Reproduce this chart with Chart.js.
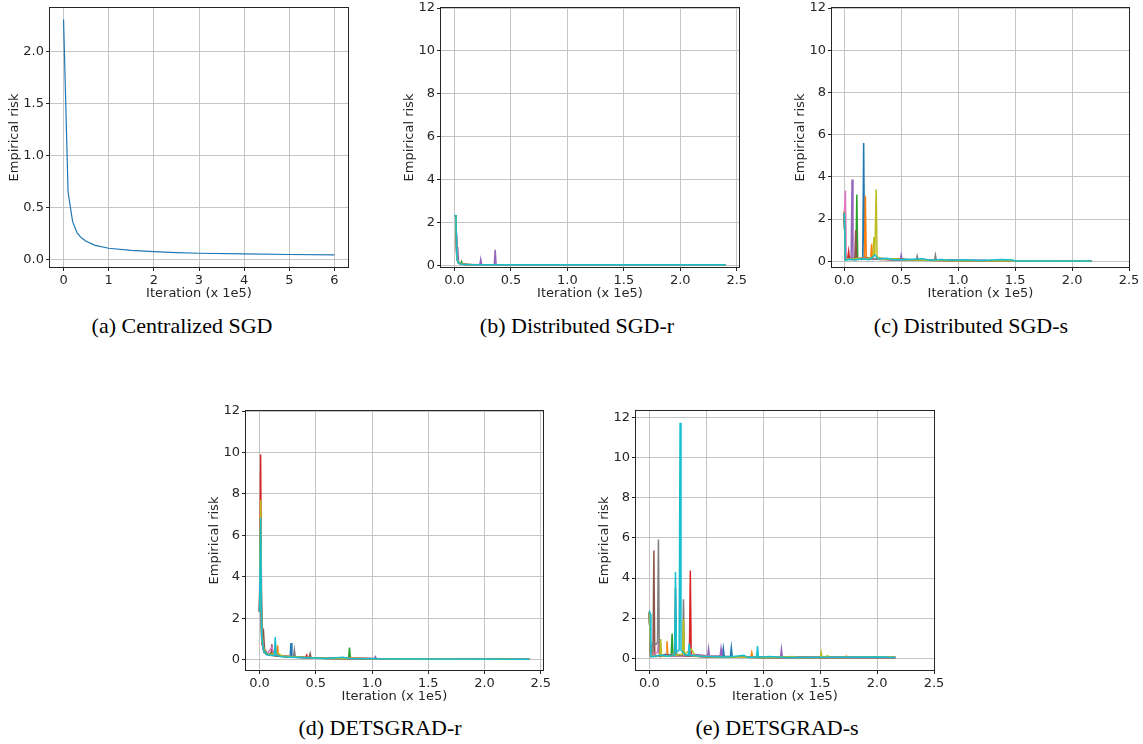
<!DOCTYPE html>
<html>
<head>
<meta charset="utf-8">
<script src="https://cdn.jsdelivr.net/npm/chart.js@4.4.0/dist/chart.umd.min.js"></script>
<style>
body { margin: 0; width: 1143px; height: 744px; background: #fff; position: relative; overflow: hidden; }
canvas { position: absolute; }
.cap { position: absolute; font-family: 'Liberation Serif', 'Times New Roman', serif; font-size: 22px; line-height: 26px; color: #000; white-space: nowrap; transform: translateX(-50%); }
</style>
</head>
<body>
<canvas id="ca"></canvas>
<canvas id="cb"></canvas>
<canvas id="cc"></canvas>
<canvas id="cd"></canvas>
<canvas id="ce"></canvas>
<div class="cap" style="left:182px;top:313px">(a) Centralized SGD</div>
<div class="cap" style="left:577px;top:313px">(b) Distributed SGD-r</div>
<div class="cap" style="left:971px;top:313px">(c) Distributed SGD-s</div>
<div class="cap" style="left:380px;top:715px">(d) DETSGRAD-r</div>
<div class="cap" style="left:777px;top:715px">(e) DETSGRAD-s</div>
<script>
// matplotlib tab10, one colour per node
const COLORS = ['#1f77b4', '#ff7f0e', '#2ca02c', '#d62728', '#9467bd', '#8c564b', '#e377c2', '#7f7f7f', '#bcbd22', '#17becf'];
const FONT = "'DejaVu Sans', sans-serif";

// tick labels
const iterTicksA = [0, 1, 2, 3, 4, 5, 6];
const riskTicksA = [0, 0.5, 1.0, 1.5, 2.0];
const iterTicks = [0, 0.5, 1.0, 1.5, 2.0, 2.5];
const riskTicks = [0, 2, 4, 6, 8, 10, 12];

// (a) centralized SGD, [iteration x1e5, risk]
const riskA = [[0, 2.31], [0.1, 0.65], [0.2, 0.37], [0.3, 0.26], [0.4, 0.21], [0.5, 0.18], [0.7, 0.14],
  [1.0, 0.112], [1.5, 0.092], [2.0, 0.08], [2.5, 0.071], [3.0, 0.064], [4.0, 0.058], [5.0, 0.052], [6.0, 0.048]];

// (b) distributed SGD-r, one list per node
const seriesB = [
  [[0, 2.31], [0.012, 2.3], [0.02, 0.35], [0.035, 0.12], [0.06, 0.06], [0.1, 0.04], [0.2, 0.03], [0.5, 0.02], [2.4, 0.02]],
  [[0, 2.3], [0.012, 2.29], [0.021, 0.3], [0.035, 0.11], [0.07, 0.05], [0.12, 0.04], [0.25, 0.03], [0.6, 0.02], [2.4, 0.02]],
  [[0, 2.3], [0.012, 2.3], [0.02, 0.4], [0.04, 0.1], [0.055, 0.08], [0.062, 0.17], [0.07, 0.06], [0.15, 0.04], [0.4, 0.02], [2.4, 0.02]],
  [[0, 2.3], [0.012, 2.28], [0.02, 0.32], [0.036, 0.12], [0.065, 0.06], [0.11, 0.04], [0.3, 0.03], [0.7, 0.02], [2.4, 0.02]],
  [[0, 2.3], [0.012, 2.29], [0.02, 0.3], [0.028, 0.85], [0.036, 0.1], [0.06, 0.05], [0.1, 0.04], [0.224, 0.03], [0.232, 0.28], [0.24, 0.03],
    [0.352, 0.03], [0.36, 0.72], [0.368, 0.03], [0.5, 0.02], [2.4, 0.02]],
  [[0, 2.3], [0.012, 2.3], [0.02, 0.36], [0.034, 0.13], [0.06, 0.06], [0.1, 0.04], [0.2, 0.03], [0.5, 0.02], [2.4, 0.02]],
  [[0, 2.3], [0.012, 2.29], [0.02, 0.33], [0.035, 0.12], [0.06, 0.05], [0.12, 0.04], [0.3, 0.02], [2.4, 0.02]],
  [[0, 2.3], [0.012, 2.3], [0.021, 0.34], [0.036, 0.11], [0.06, 0.05], [0.1, 0.04], [0.25, 0.03], [0.6, 0.02], [2.4, 0.02]],
  [[0, 2.3], [0.012, 2.28], [0.02, 0.31], [0.035, 0.12], [0.062, 0.06], [0.1, 0.04], [0.2, 0.03], [0.5, 0.02], [2.4, 0.02]],
  [[0, 2.32], [0.012, 2.31], [0.022, 0.25], [0.035, 0.1], [0.06, 0.05], [0.1, 0.04], [0.2, 0.03], [0.5, 0.02], [2.4, 0.02]]
];

// (c) distributed SGD-s
const seriesC = [
  [[0, 2.3], [0.01, 0.12], [0.04, 0.15], [0.08, 0.1], [0.12, 0.14], [0.162, 0.12], [0.17, 5.6], [0.178, 0.15], [0.22, 0.1], [0.3, 0.12],
    [0.38, 0.08], [0.48, 0.1], [0.6, 0.06], [0.75, 0.07], [0.9, 0.04], [1.1, 0.04], [1.4, 0.03], [2.17, 0.02]],
  [[0, 2.3], [0.01, 0.1], [0.05, 0.12], [0.1, 0.09], [0.15, 0.13], [0.177, 0.15], [0.185, 3.1], [0.193, 0.2], [0.232, 0.12], [0.24, 0.83],
    [0.248, 0.1], [0.3, 0.1], [0.4, 0.12], [0.5, 0.07], [0.65, 0.06], [0.8, 0.05], [1.0, 0.03], [1.3, 0.03], [2.17, 0.02]],
  [[0, 2.3], [0.01, 0.08], [0.05, 0.1], [0.102, 0.12], [0.11, 3.16], [0.118, 0.1], [0.16, 0.14], [0.22, 0.1], [0.3, 0.14], [0.4, 0.08],
    [0.52, 0.1], [0.62, 0.05], [0.8, 0.06], [1.0, 0.03], [1.2, 0.03], [2.17, 0.02]],
  [[0, 2.3], [0.01, 0.1], [0.03, 0.12], [0.038, 0.47], [0.046, 0.1], [0.09, 0.08], [0.14, 0.12], [0.2, 0.15], [0.27, 0.1], [0.33, 0.12],
    [0.42, 0.07], [0.55, 0.06], [0.7, 0.05], [0.9, 0.04], [1.2, 0.03], [2.17, 0.02]],
  [[0, 2.3], [0.01, 0.1], [0.04, 0.12], [0.06, 0.1], [0.068, 3.87], [0.076, 0.12], [0.12, 0.1], [0.18, 0.13], [0.25, 0.09], [0.33, 0.14],
    [0.42, 0.1], [0.492, 0.08], [0.5, 0.3], [0.508, 0.08], [0.6, 0.06], [0.75, 0.05], [0.9, 0.04], [1.24, 0.05], [1.25, 0.02], [2.17, 0.02]],
  [[0, 2.3], [0.01, 0.1], [0.05, 0.14], [0.092, 0.12], [0.1, 1.47], [0.108, 0.12], [0.15, 0.09], [0.21, 0.14], [0.28, 0.1], [0.36, 0.08],
    [0.46, 0.1], [0.58, 0.06], [0.72, 0.05], [0.9, 0.04], [1.1, 0.03], [2.17, 0.02]],
  [[0, 2.3], [0.01, 3.35], [0.017, 0.1], [0.05, 0.08], [0.1, 0.12], [0.14, 0.16], [0.2, 0.1], [0.26, 0.12], [0.32, 0.08], [0.4, 0.1],
    [0.5, 0.06], [0.62, 0.07], [0.78, 0.05], [0.95, 0.04], [1.15, 0.03], [1.6, 0.03], [2.17, 0.02]],
  [[0, 2.3], [0.01, 0.1], [0.06, 0.12], [0.12, 0.08], [0.2, 0.14], [0.27, 0.1], [0.35, 0.12], [0.44, 0.07], [0.55, 0.08], [0.632, 0.06],
    [0.64, 0.25], [0.648, 0.06], [0.72, 0.05], [0.792, 0.06], [0.8, 0.3], [0.808, 0.06], [0.95, 0.04], [1.2, 0.03], [2.17, 0.02]],
  [[0, 2.35], [0.01, 0.12], [0.06, 0.1], [0.13, 0.14], [0.2, 0.12], [0.252, 0.2], [0.26, 1.15], [0.268, 0.25], [0.28, 3.4], [0.288, 0.2],
    [0.34, 0.1], [0.42, 0.12], [0.52, 0.07], [0.65, 0.06], [0.8, 0.04], [1.0, 0.03], [2.17, 0.02]],
  [[0, 2.3], [0.01, 0.05], [0.04, 0.1], [0.09, 0.06], [0.15, 0.12], [0.22, 0.08], [0.27, 0.3], [0.3, 0.1], [0.37, 0.14], [0.45, 0.06],
    [0.55, 0.08], [0.69, 0.12], [0.75, 0.05], [0.85, 0.08], [0.95, 0.05], [1.05, 0.07], [1.2, 0.04], [1.38, 0.08], [1.48, 0.06], [1.5, 0.02], [2.17, 0.02]]
];

// (d) DETSGRAD-r
const seriesD = [
  [[0, 2.3], [0.01, 4.5], [0.02, 1.0], [0.035, 0.45], [0.06, 0.25], [0.1, 0.22], [0.16, 0.18], [0.22, 0.15], [0.272, 0.12], [0.28, 0.8],
    [0.288, 0.12], [0.36, 0.1], [0.45, 0.08], [0.6, 0.06], [0.8, 0.05], [1.0, 0.04], [1.3, 0.03], [1.8, 0.02], [2.4, 0.02]],
  [[0, 2.3], [0.01, 5.2], [0.02, 0.9], [0.04, 0.4], [0.07, 0.28], [0.12, 0.22], [0.152, 0.2], [0.16, 0.69], [0.168, 0.2], [0.22, 0.16],
    [0.3, 0.14], [0.4, 0.1], [0.55, 0.07], [0.7, 0.06], [0.9, 0.05], [1.2, 0.03], [2.4, 0.02]],
  [[0, 2.3], [0.01, 3.8], [0.02, 1.1], [0.04, 0.35], [0.08, 0.25], [0.14, 0.2], [0.2, 0.15], [0.3, 0.12], [0.42, 0.1], [0.55, 0.08],
    [0.7, 0.06], [0.792, 0.06], [0.8, 0.58], [0.808, 0.06], [0.95, 0.04], [1.2, 0.03], [2.4, 0.02]],
  [[0, 2.3], [0.01, 9.9], [0.02, 0.8], [0.04, 0.4], [0.07, 0.26], [0.12, 0.2], [0.2, 0.16], [0.3, 0.13], [0.412, 0.1], [0.42, 0.22],
    [0.428, 0.1], [0.55, 0.07], [0.72, 0.06], [0.9, 0.05], [1.1, 0.03], [2.4, 0.02]],
  [[0, 2.3], [0.01, 5.8], [0.02, 1.0], [0.04, 0.38], [0.07, 0.28], [0.1, 0.3], [0.16, 0.2], [0.22, 0.17], [0.3, 0.12], [0.4, 0.1],
    [0.52, 0.08], [0.7, 0.06], [0.9, 0.05], [1.022, 0.05], [1.03, 0.14], [1.038, 0.05], [1.3, 0.03], [2.4, 0.02]],
  [[0, 2.3], [0.01, 6.2], [0.02, 1.2], [0.035, 1.4], [0.045, 0.5], [0.07, 0.3], [0.102, 0.25], [0.11, 0.74], [0.118, 0.25], [0.17, 0.2],
    [0.25, 0.15], [0.35, 0.12], [0.442, 0.1], [0.45, 0.29], [0.458, 0.1], [0.6, 0.07], [0.8, 0.05], [1.0, 0.04], [1.3, 0.03], [2.4, 0.02]],
  [[0, 2.3], [0.01, 5.5], [0.02, 0.9], [0.04, 0.4], [0.07, 0.3], [0.09, 0.45], [0.11, 0.6], [0.13, 0.25], [0.2, 0.18], [0.28, 0.14],
    [0.38, 0.11], [0.5, 0.08], [0.65, 0.07], [0.85, 0.05], [1.1, 0.04], [2.4, 0.02]],
  [[0, 2.3], [0.01, 6.0], [0.02, 1.0], [0.04, 0.42], [0.07, 0.3], [0.12, 0.22], [0.2, 0.18], [0.302, 0.14], [0.31, 0.48], [0.318, 0.14],
    [0.4, 0.1], [0.5, 0.08], [0.65, 0.06], [0.85, 0.05], [1.1, 0.04], [1.5, 0.03], [2.4, 0.02]],
  [[0, 2.3], [0.01, 7.7], [0.02, 0.9], [0.04, 0.5], [0.06, 0.3], [0.1, 0.24], [0.15, 0.35], [0.2, 0.18], [0.28, 0.14], [0.38, 0.11],
    [0.5, 0.08], [0.65, 0.06], [0.8, 0.07], [1.0, 0.04], [1.3, 0.03], [2.4, 0.02]],
  [[0, 2.3], [0.01, 6.85], [0.02, 1.0], [0.04, 0.4], [0.07, 0.25], [0.1, 0.2], [0.132, 0.2], [0.14, 1.09], [0.148, 0.2], [0.2, 0.14],
    [0.28, 0.12], [0.36, 0.1], [0.48, 0.08], [0.6, 0.06], [0.74, 0.12], [0.8, 0.05], [1.0, 0.04], [1.3, 0.03], [2.4, 0.02]]
];

// (e) DETSGRAD-s
const seriesE = [
  [[0, 2.3], [0.012, 0.1], [0.04, 0.15], [0.09, 0.08], [0.14, 0.2], [0.2, 0.12], [0.26, 0.18], [0.32, 0.1], [0.4, 0.14], [0.5, 0.08],
    [0.642, 0.08], [0.65, 0.48], [0.658, 0.08], [0.712, 0.08], [0.72, 0.53], [0.728, 0.08], [0.85, 0.06], [1.0, 0.04], [1.3, 0.03], [2.16, 0.03]],
  [[0, 2.3], [0.012, 0.08], [0.06, 0.12], [0.147, 0.1], [0.155, 0.85], [0.163, 0.1], [0.22, 0.14], [0.3, 0.1], [0.38, 0.12], [0.48, 0.07],
    [0.6, 0.08], [0.75, 0.06], [0.892, 0.05], [0.9, 0.28], [0.908, 0.05], [1.1, 0.04], [1.4, 0.03], [1.722, 0.03], [1.73, 0.1], [1.738, 0.03], [2.16, 0.03]],
  [[0, 2.3], [0.012, 0.1], [0.06, 0.08], [0.12, 0.15], [0.192, 0.12], [0.2, 1.23], [0.208, 0.15], [0.26, 0.12], [0.33, 0.16], [0.42, 0.1],
    [0.52, 0.07], [0.64, 0.08], [0.8, 0.05], [1.0, 0.04], [1.3, 0.03], [2.16, 0.03]],
  [[0, 2.3], [0.012, 0.1], [0.05, 0.12], [0.1, 0.08], [0.18, 0.14], [0.26, 0.1], [0.352, 0.12], [0.36, 4.38], [0.368, 0.15], [0.42, 0.1],
    [0.55, 0.07], [0.7, 0.06], [0.9, 0.05], [1.1, 0.04], [1.35, 0.06], [1.36, 0.03], [1.97, 0.05], [1.98, 0.03], [2.16, 0.03]],
  [[0, 2.3], [0.012, 0.1], [0.05, 0.14], [0.1, 0.1], [0.16, 0.18], [0.24, 0.1], [0.32, 0.12], [0.4, 0.18], [0.512, 0.12], [0.52, 0.48],
    [0.528, 0.1], [0.622, 0.1], [0.63, 0.48], [0.638, 0.08], [0.75, 0.06], [0.9, 0.05], [1.152, 0.05], [1.16, 0.45], [1.168, 0.05], [1.4, 0.03], [2.16, 0.03]],
  [[0, 2.3], [0.012, 0.1], [0.032, 0.1], [0.04, 5.38], [0.048, 0.12], [0.1, 0.1], [0.16, 0.14], [0.222, 0.12], [0.23, 3.5], [0.238, 0.15],
    [0.3, 0.1], [0.38, 0.12], [0.5, 0.07], [0.65, 0.06], [0.85, 0.05], [1.1, 0.04], [2.16, 0.03]],
  [[0, 2.3], [0.012, 0.1], [0.04, 0.2], [0.072, 0.3], [0.08, 0.8], [0.088, 0.2], [0.14, 0.1], [0.2, 0.12], [0.27, 0.1], [0.35, 0.14],
    [0.45, 0.08], [0.55, 0.1], [0.7, 0.06], [0.9, 0.05], [1.2, 0.04], [2.16, 0.03]],
  [[0, 2.3], [0.012, 0.1], [0.03, 0.8], [0.06, 0.7], [0.072, 0.8], [0.08, 5.93], [0.088, 0.15], [0.14, 0.1], [0.2, 0.15], [0.26, 0.12],
    [0.292, 0.15], [0.3, 2.94], [0.308, 0.15], [0.38, 0.1], [0.5, 0.07], [0.65, 0.06], [0.85, 0.05], [1.1, 0.04], [2.16, 0.03]],
  [[0, 2.3], [0.012, 0.1], [0.092, 0.12], [0.1, 0.95], [0.108, 0.12], [0.16, 0.1], [0.22, 0.15], [0.292, 0.2], [0.3, 1.95], [0.308, 0.2],
    [0.37, 0.45], [0.4, 0.1], [0.5, 0.08], [0.65, 0.06], [0.85, 0.05], [1.1, 0.04], [1.26, 0.08], [1.3, 0.03], [1.502, 0.03], [1.51, 0.28],
    [1.518, 0.03], [1.57, 0.12], [1.58, 0.03], [2.13, 0.06], [2.16, 0.03]],
  [[0, 2.39], [0.008, 2.2], [0.014, 0.08], [0.05, 0.1], [0.1, 0.14], [0.16, 0.1], [0.222, 0.15], [0.23, 4.3], [0.238, 0.3], [0.262, 0.4],
    [0.27, 11.75], [0.278, 0.4], [0.32, 0.15], [0.342, 0.15], [0.35, 0.73], [0.358, 0.15], [0.45, 0.1], [0.55, 0.08], [0.7, 0.06], [0.83, 0.15],
    [0.86, 0.05], [0.942, 0.05], [0.95, 0.61], [0.958, 0.05], [1.05, 0.08], [1.2, 0.04], [2.05, 0.06], [2.16, 0.03]]
];

// axes box round the plot area, like matplotlib's spines
const frame = {
  id: 'frame',
  afterDraw(chart) {
    const { ctx, chartArea: a } = chart;
    ctx.save();
    ctx.strokeStyle = '#262626';
    ctx.lineWidth = 1;
    ctx.strokeRect(a.left - 0.5, a.top - 0.5, a.right - a.left + 1, a.bottom - a.top + 1);
    ctx.restore();
  }
};

function axis(range, ticks, dec, title, fit) {
  return {
    type: 'linear',
    min: range[0],
    max: range[1],
    afterBuildTicks: s => { s.ticks = ticks.map(v => ({ value: v })); },
    afterFit: fit,
    ticks: { callback: v => v.toFixed(dec), font: { family: FONT, size: 13 }, color: '#262626', padding: 2, maxRotation: 0, autoSkip: false },
    grid: { color: '#c4c4c4', lineWidth: 1, tickLength: 4, tickColor: '#262626' },
    border: { display: false },
    title: { display: true, text: title, font: { family: FONT, size: 13 }, color: '#262626', padding: 0 }
  };
}

function panel(id, box, yw, series, xr, yr, xt, yt, xd, yd) {
  const cv = document.getElementById(id);
  const padT = 10, padR = 16, xh = 34;
  const w = yw + box.w + padR, h = padT + box.h + xh;
  cv.width = w; cv.height = h;
  cv.style.left = (box.x - yw) + 'px';
  cv.style.top = (box.y - padT) + 'px';
  cv.style.width = w + 'px';
  cv.style.height = h + 'px';
  const single = series.length === 1;
  new Chart(cv, {
    type: 'scatter',
    data: {
      datasets: series.map((pts, i) => ({
        data: pts.map(p => ({ x: p[0], y: p[1] })),
        showLine: true,
        borderColor: COLORS[i],
        borderWidth: single ? 1.2 : 1.5,
        pointRadius: 0,
        fill: false,
        order: series.length - i
      }))
    },
    options: {
      responsive: false,
      animation: false,
      devicePixelRatio: 1,
      layout: { padding: { top: padT, right: padR, left: 0, bottom: 0 } },
      plugins: { legend: { display: false }, tooltip: { enabled: false } },
      scales: {
        x: axis(xr, xt, xd, 'Iteration (x 1e5)', s => { s.height = xh; s.paddingLeft = 0; s.paddingRight = 0; }),
        y: axis(yr, yt, yd, 'Empirical risk', s => { s.width = yw; s.paddingTop = 0; s.paddingBottom = 0; })
      }
    },
    plugins: [frame]
  });
}

panel('ca', { x: 50, y: 8, w: 298, h: 259 }, 43, [riskA], [-0.3, 6.3], [-0.068, 2.42], iterTicksA, riskTicksA, 0, 1);
panel('cb', { x: 441, y: 8, w: 298, h: 259 }, 39, seriesB, [-0.12, 2.52], [-0.08, 12], iterTicks, riskTicks, 1, 0);
panel('cc', { x: 832, y: 8, w: 297, h: 259 }, 39, seriesC, [-0.108, 2.5], [-0.27, 12], iterTicks, riskTicks, 1, 0);
panel('cd', { x: 246, y: 411, w: 297, h: 259 }, 39, seriesD, [-0.12, 2.52], [-0.5, 12], iterTicks, riskTicks, 1, 0);
panel('ce', { x: 636, y: 411, w: 298, h: 259 }, 39, seriesE, [-0.117, 2.5], [-0.59, 12.34], iterTicks, riskTicks, 1, 0);
</script>
</body>
</html>
